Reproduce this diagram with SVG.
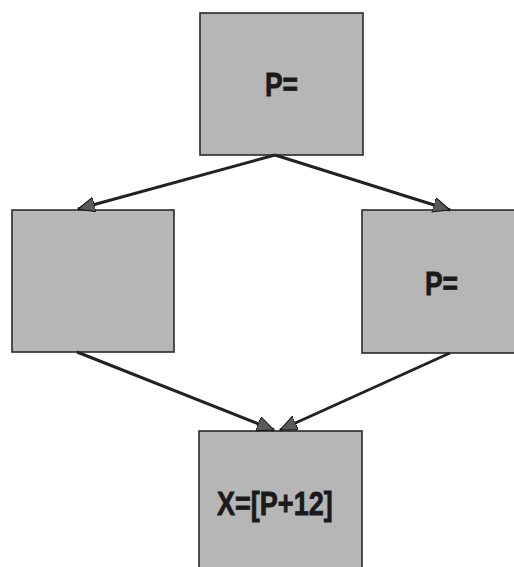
<svg xmlns="http://www.w3.org/2000/svg" width="514" height="567" viewBox="0 0 514 567">
  <style>
    .box { fill: #b6b6b6; stroke: #2a2a2a; stroke-width: 1.6; }
    .lbl { font-family: "Liberation Sans", Arial, sans-serif; font-weight: bold; font-size: 33px; fill: #1a1a1a; stroke: #1a1a1a; stroke-width: 0.8; }
    .edge { stroke: #222; stroke-width: 3; fill: none; marker-end: url(#arrow); }
  </style>
  <defs>
    <marker id="arrow" markerUnits="userSpaceOnUse" markerWidth="20" markerHeight="16" refX="17" refY="7.5" orient="auto">
      <path d="M0,0 L17,7.5 L0,15 Z" fill="#5a5a5a" stroke="#111" stroke-width="1"/>
    </marker>
  </defs>

  <rect width="514" height="567" fill="#ffffff"/>

  <g id="node-top">
    <rect class="box" x="200" y="13" width="163" height="142"/>
    <text class="lbl" transform="translate(265,96) scale(0.8,1)">P=</text>
  </g>

  <g id="node-left">
    <rect class="box" x="12" y="210" width="162" height="142"/>
  </g>

  <g id="node-right">
    <rect class="box" x="362" y="210" width="153" height="143"/>
    <text class="lbl" transform="translate(425,295) scale(0.8,1)">P=</text>
  </g>

  <g id="node-bottom">
    <rect class="box" x="199" y="431" width="163" height="145"/>
    <text class="lbl" transform="translate(217,515) scale(0.82,1)">X=[P+12]</text>
  </g>

  <g id="connectors">
    <line class="edge" x1="275" y1="155" x2="78" y2="209"/>
    <line class="edge" x1="275" y1="155" x2="450" y2="210"/>
    <line class="edge" x1="77" y1="352" x2="274" y2="430"/>
    <line class="edge" x1="450" y1="353" x2="280" y2="430"/>
  </g>
</svg>
